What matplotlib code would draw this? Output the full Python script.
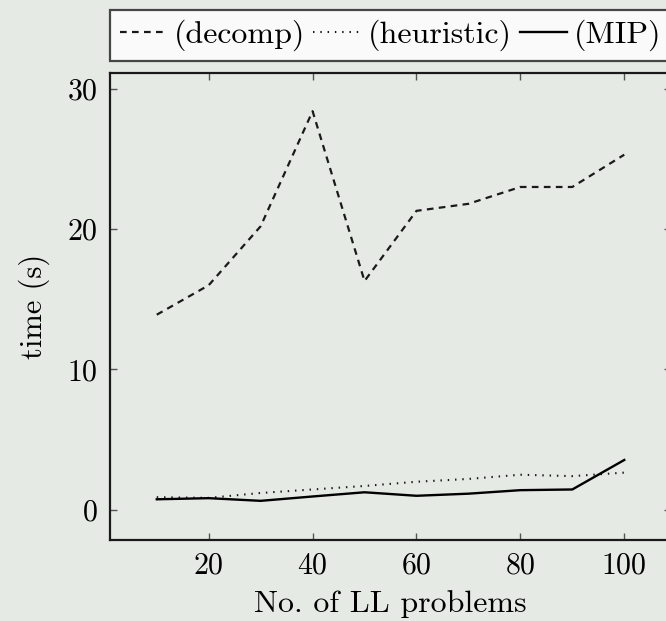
import matplotlib.pyplot as plt

plt.rcParams['font.family'] = ['cmr10', 'DejaVu Serif']
plt.rcParams['axes.formatter.use_mathtext'] = True

# number of LL problems
n_problems = [10, 20, 30, 40, 50, 60, 70, 80, 90, 100]
# solve times in seconds
t_decomp = [13.9, 16.0, 20.2, 28.4, 16.3, 21.3, 21.8, 23.0, 23.0, 25.3]
t_heuristic = [0.9, 0.85, 1.2, 1.45, 1.7, 2.0, 2.2, 2.5, 2.4, 2.65]
t_mip = [0.75, 0.83, 0.64, 0.95, 1.25, 1.0, 1.15, 1.4, 1.45, 3.55]

x_ticks = [20, 40, 60, 80, 100]
y_ticks = [0, 10, 20, 30]

bg = '#e6eae5'

fig = plt.figure(figsize=(6.66, 6.21), dpi=100, facecolor=bg)
ax = fig.add_axes([110 / 666, 81 / 621, 561 / 666, 467 / 621])
ax.set_facecolor(bg)

l1, = ax.plot(n_problems, t_decomp, color='#1a1a1a', lw=1.6, linestyle=(0, (3, 2.4)))
l2, = ax.plot(n_problems, t_heuristic, color='#1a1a1a', lw=1.5, linestyle=(0, (0.7, 2.8)))
l3, = ax.plot(n_problems, t_mip, color='black', lw=1.7)

ax.set_xlim(1, 109)
ax.set_ylim(-2.15, 31.12)
ax.set_xticks(x_ticks)
ax.set_yticks(y_ticks)
ax.tick_params(direction='in', length=5, width=1, color='#555555', labelsize=21.5,
               top=True, right=True, pad=9)
for s in ax.spines.values():
    s.set_linewidth(1.6)
    s.set_color('#1a1a1a')

ax.set_xlabel('No. of LL problems', fontsize=23, labelpad=7)
ax.set_ylabel('time (s)', fontsize=22, labelpad=12)

leg = fig.legend([l1, l2, l3], ['(decomp)', '(heuristic)', '(MIP)'],
                 ncol=3, loc='upper left', bbox_to_anchor=(110 / 666, 1 - 10 / 621),
                 fontsize=23, frameon=True, fancybox=False, edgecolor='#1a1a1a',
                 handlelength=1.5, handletextpad=0.2, columnspacing=0.25,
                 borderpad=0.3, borderaxespad=0)
leg.get_frame().set_linewidth(1.6)
leg.get_frame().set_facecolor('white')

fig.savefig('out.png', dpi=100, facecolor=bg)
